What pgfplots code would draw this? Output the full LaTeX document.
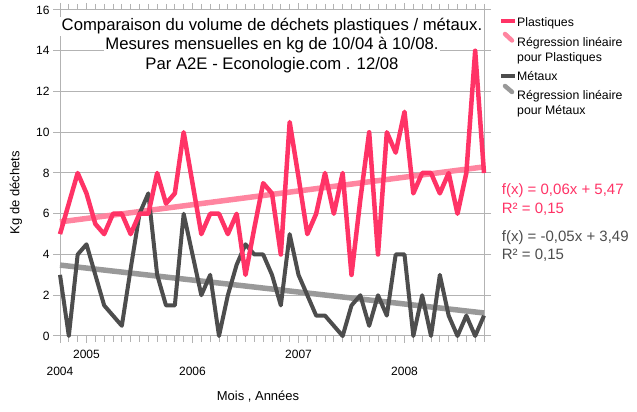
\documentclass[border=0pt]{standalone}
\usepackage{pgfplots}
\pgfplotsset{compat=1.18}
\usepackage{pgfplotstable}
\usepackage{fontspec}
\setmainfont{Liberation Sans}
\definecolor{plast}{RGB}{255,51,102}
\definecolor{plastreg}{RGB}{255,133,160}
\definecolor{met}{RGB}{77,77,77}
\definecolor{metreg}{RGB}{153,153,153}
\definecolor{gridc}{RGB}{179,179,179}

\pgfplotstableread{
i p m
0 5 3
1 6.5 0
2 8 4
3 7 4.5
4 5.5 3
5 5 1.5
6 6 1
7 6 0.5
8 5 3.3
9 6 6
10 6 7
11 8 3
12 6.5 1.5
13 7 1.5
14 10 6
15 7.5 4
16 5 2
17 6 3
18 6 0
19 5 2
20 6 3.5
21 3 4.5
22 5.3 4
23 7.5 4
24 7 3
25 4 1.5
26 10.5 5
27 7.8 3
28 5 2
29 6 1
30 8 1
31 6 0.5
32 8 0
33 3 1.5
34 6.7 2
35 10 0.5
36 4 2
37 10 1
38 9 4
39 11 4
40 7 0
41 8 2
42 8 0
43 7 3
44 8 1
45 6 0
46 8 1
47 14 0
48 8 1
}\data

\begin{document}
\begin{tikzpicture}
\useasboundingbox (0,0) rectangle (637pt,412pt);
\begin{axis}[
  at={(60pt,76pt)}, anchor=south west,
  width=424pt, height=326pt, scale only axis,
  xmin=0, xmax=48, ymin=0, ymax=16,
  clip=false,
  axis line style={gridc, line width=1pt},
  ymajorgrids, grid style={gridc, line width=1pt},
  ytick={0,2,...,16},
  xtick={0,15,39}, xticklabels={2004,2006,2008},
  extra x ticks={3,27}, extra x tick labels={2005,2007},
  extra x tick style={xticklabel style={yshift=17pt}},
  minor xtick={0,...,48},
  tick align=outside,
  tick style={gridc, line width=1pt},
  major tick length=7pt, minor tick length=6pt,
  /pgf/number format/assume math mode=true,
  ticklabel style={font=\fontsize{12}{14}\selectfont, text=black},
  xticklabel style={anchor=center, yshift=-28pt},
  yticklabel style={anchor=east},
]
\addplot[plastreg, line width=5.5pt] coordinates {(0,5.6) (48,8.3)};
\addplot[metreg, line width=5.5pt] coordinates {(0,3.48) (48,1.13)};
\addplot[met, line width=4pt, line join=round] table[x=i,y=m]{\data};
\addplot[plast, line width=4.5pt, line join=round] table[x=i,y=p]{\data};
\end{axis}

% legend
\fill[plast] (500.7pt,389pt) rectangle (515pt,393pt);
\draw[plastreg, line width=4.5pt, line cap=round] (505pt,378pt) -- (512pt,371.5pt);
\fill[met] (500.7pt,334pt) rectangle (515pt,338pt);
\draw[metreg, line width=4.5pt, line cap=round] (505pt,326pt) -- (512pt,320pt);
\begin{scope}[every node/.style={inner sep=0pt, anchor=base west, font=\fontsize{12.3}{15}\selectfont}]
\node at (517pt,385.3pt) {Plastiques};
\node at (517pt,365.3pt) {Régression linéaire};
\node at (517pt,350.3pt) {pour Plastiques};
\node at (517pt,331pt) {Métaux};
\node at (517pt,312pt) {Régression linéaire};
\node at (517pt,297pt) {pour Métaux};
\end{scope}

\begin{scope}[every node/.style={fill=white, inner sep=1.5pt, font=\fontsize{16.7}{19}\selectfont, anchor=base}]
\node at (272pt,381.3pt) {Comparaison du volume de déchets plastiques / métaux.};
\node at (272pt,362pt) {Mesures mensuelles en kg de 10/04 à 10/08.};
\node at (272pt,342pt) {Par A2E - Econologie.com . 12/08};
\end{scope}

\node[rotate=90, font=\fontsize{13}{15}\selectfont] at (16pt,219.5pt) {Kg de déchets};
\node[font=\fontsize{13}{15}\selectfont] at (258pt,15pt) {Mois , Années};

\begin{scope}[every node/.style={inner sep=0pt, anchor=base west, font=\fontsize{15}{18}\selectfont}]
\node[text=plast] at (501.7pt,217pt) {f(x) = 0,06x + 5,47};
\node[text=plast] at (501.7pt,198.7pt) {R² = 0,15};
\node[text=met] at (501.7pt,170.3pt) {f(x) = -0,05x + 3,49};
\node[text=met] at (501.7pt,152pt) {R² = 0,15};
\end{scope}
\end{tikzpicture}
\end{document}
